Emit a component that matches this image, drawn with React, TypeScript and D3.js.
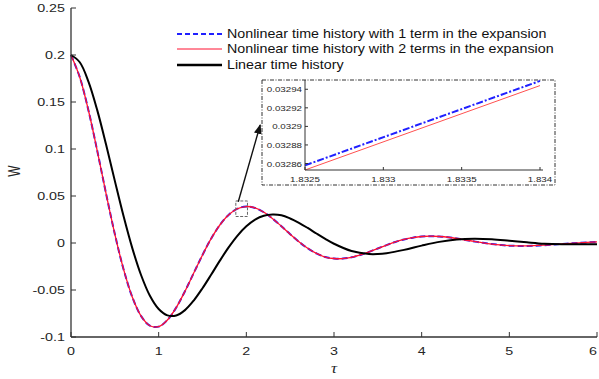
import React from "react";
import * as d3 from "d3";

// ---------- data ----------
const tauNonlinear = [
  0, 0.1, 0.2, 0.3, 0.4, 0.5, 0.6, 0.7, 0.8, 0.9, 1.0, 1.1, 1.2, 1.3, 1.4, 1.5, 1.6, 1.7, 1.8, 1.9,
  2.0, 2.1, 2.2, 2.3, 2.4, 2.5, 2.6, 2.7, 2.8, 2.9, 3.0, 3.1, 3.2, 3.3, 3.4, 3.5, 3.6, 3.7, 3.8, 3.9,
  4.0, 4.1, 4.2, 4.3, 4.4, 4.5, 4.6, 4.7, 4.8, 4.9, 5.0, 5.2, 5.4, 5.6, 5.8, 6.0,
];
const nonlinear1Term = [
  0.2, 0.1764, 0.1407, 0.0978, 0.0526, 0.0095, -0.0281, -0.0577, -0.0778, -0.088, -0.089, -0.0819,
  -0.0687, -0.0513, -0.032, -0.0127, 0.0049, 0.0194, 0.0301, 0.0365, 0.0388, 0.0373, 0.0327, 0.0259,
  0.0178, 0.0094, 0.0013, -0.0056, -0.0111, -0.0149, -0.0165, -0.0166, -0.0152, -0.0127, -0.0094,
  -0.0058, -0.0022, 0.0011, 0.0038, 0.0057, 0.0069, 0.0073, 0.0069, 0.0061, 0.0048, 0.0032, 0.0017,
  0.0002, -0.0011, -0.0021, -0.0028, -0.0031, -0.0023, -0.001, 0.0002, 0.0011,
];
const nonlinear2Terms = [
  0.2, 0.1764, 0.1407, 0.0978, 0.0526, 0.0095, -0.0281, -0.0577, -0.0778, -0.088, -0.089, -0.0819,
  -0.0687, -0.0513, -0.032, -0.0127, 0.0049, 0.0194, 0.0301, 0.0365, 0.0388, 0.0373, 0.0327, 0.0259,
  0.0178, 0.0094, 0.0013, -0.0056, -0.0111, -0.0149, -0.0165, -0.0166, -0.0152, -0.0127, -0.0094,
  -0.0058, -0.0022, 0.0011, 0.0038, 0.0057, 0.0069, 0.0073, 0.0069, 0.0061, 0.0048, 0.0032, 0.0017,
  0.0002, -0.0011, -0.0021, -0.0028, -0.0031, -0.0023, -0.001, 0.0002, 0.0011,
];
const tauLinear = [
  0, 0.1, 0.2, 0.3, 0.4, 0.5, 0.6, 0.7, 0.8, 0.9, 1.0, 1.1, 1.2, 1.3, 1.4, 1.5, 1.6, 1.7, 1.8, 1.9,
  2.0, 2.1, 2.2, 2.3, 2.4, 2.5, 2.6, 2.7, 2.8, 2.9, 3.0, 3.2, 3.4, 3.5, 3.6, 3.8, 4.0, 4.2, 4.4, 4.6,
  4.8, 5.0, 5.2, 5.4, 5.6, 5.8, 6.0,
];
const linearValues = [
  0.2, 0.1923, 0.1715, 0.1411, 0.1048, 0.0661, 0.0284, -0.0057, -0.0343, -0.0561, -0.0702, -0.077,
  -0.0771, -0.0714, -0.0612, -0.0481, -0.0335, -0.0185, -0.0044, 0.0079, 0.0177, 0.0249, 0.029,
  0.0303, 0.0295, 0.0261, 0.0215, 0.016, 0.0101, 0.0044, -0.0008, -0.0085, -0.0117, -0.0117, -0.0108,
  -0.0073, -0.0028, 0.0012, 0.0038, 0.0046, 0.004, 0.0024, 0.0007, -0.0008, -0.0014, -0.0014, -0.0012,
];

const xTicks = [0, 1, 2, 3, 4, 5, 6];
const yTicks = [-0.1, -0.05, 0, 0.05, 0.1, 0.15, 0.2, 0.25];
const yTickLabels = ["-0.1", "-0.05", "0", "0.05", "0.1", "0.15", "0.2", "0.25"];

// inset (zoom) data
const insetTau = [1.8325, 1.834];
const inset1Term = [0.032858, 0.032949];
const inset2Terms = [0.032853, 0.032944];
const insetXTicks = [1.8325, 1.833, 1.8335, 1.834];
const insetXTickLabels = ["1.8325", "1.833", "1.8335", "1.834"];
const insetYTicks = [0.03286, 0.03288, 0.0329, 0.03292, 0.03294];
const insetYTickLabels = ["0.03286", "0.03288", "0.0329", "0.03292", "0.03294"];

// annotation: zoom rectangle and arrow (data units)
const zoomRectTau = [1.88, 2.013];
const zoomRectW = [0.0282, 0.0447];
const arrowFrom = [1.908, 0.0439];
const arrowTo = [2.158, 0.1255];

const legendLabels = [
  "Nonlinear time history with 1 term in the expansion",
  "Nonlinear time history with 2 terms in the expansion",
  "Linear time history",
];

// ---------- layout ----------
const W = 599;
const H = 379;
const plot = { left: 71, right: 597, top: 8, bottom: 337 };
const inset = { boxL: 262, boxR: 555, boxT: 80, boxB: 185, left: 305, right: 540, top: 80, bottom: 170 };
const SX = 1.3;
const textColor = "#262626";
const axisColor = "#333";

export default function App() {
  const x = d3.scaleLinear().domain([0, 6]).range([plot.left, plot.right]);
  const y = d3.scaleLinear().domain([-0.1, 0.25]).range([plot.bottom, plot.top]);

  const line = (ts: number[], vs: number[]) =>
    d3
      .line<number>()
      .x((_, i) => x(ts[i]))
      .y((v) => y(v))
      .curve(d3.curveCatmullRom.alpha(0.5))(vs) || "";

  const ix = d3.scaleLinear().domain([1.8325, 1.834]).range([inset.left, inset.right]);
  const iy = d3.scaleLinear().domain([0.032853, 0.03295]).range([inset.bottom, inset.top]);
  const iline = (vs: number[]) =>
    d3
      .line<number>()
      .x((_, i) => ix(insetTau[i]))
      .y((v) => iy(v))(vs) || "";

  const ax0 = x(arrowFrom[0]);
  const ay0 = y(arrowFrom[1]);
  const ax1 = x(arrowTo[0]);
  const ay1 = y(arrowTo[1]);

  const legendY = [34, 49, 65];

  return (
    <svg
      width={W}
      height={H}
      style={{ position: "absolute", left: 0, top: 0, display: "block", background: "#fff" }}
      fontFamily="'Liberation Sans', Arial, sans-serif"
    >
      <defs>
        <marker id="ah" viewBox="0 0 10 10" refX="9" refY="5" markerWidth="7" markerHeight="7" orient="auto">
          <path d="M0,1 L10,5 L0,9 z" fill="#111" />
        </marker>
      </defs>
      <rect x={0} y={0} width={W} height={H} fill="#fff" />

      {/* curves */}
      <path d={line(tauNonlinear, nonlinear1Term)} fill="none" stroke="#2020ff" strokeWidth={2} strokeDasharray="6,3" />
      <path d={line(tauNonlinear, nonlinear2Terms)} fill="none" stroke="#ff1030" strokeWidth={1.3} />
      <path d={line(tauLinear, linearValues)} fill="none" stroke="#000" strokeWidth={2} />

      {/* axes */}
      <line x1={plot.left} x2={plot.left} y1={plot.top} y2={plot.bottom} stroke={axisColor} strokeWidth={1.3} />
      <line x1={plot.left} x2={plot.right} y1={plot.bottom} y2={plot.bottom} stroke={axisColor} strokeWidth={1.3} />
      {yTicks.map((t, i) => (
        <g key={"yt" + i}>
          <line x1={plot.left} x2={plot.left + 5} y1={y(t)} y2={y(t)} stroke={axisColor} strokeWidth={1} />
          <text
            transform={`translate(${plot.left - 6},${y(t) + 4}) scale(${SX},1)`}
            textAnchor="end"
            fontSize={11}
            fill={textColor}
          >
            {yTickLabels[i]}
          </text>
        </g>
      ))}
      {xTicks.map((t, i) => (
        <g key={"xt" + i}>
          <line x1={x(t)} x2={x(t)} y1={plot.bottom} y2={plot.bottom - 5} stroke={axisColor} strokeWidth={1} />
          <text
            transform={`translate(${Math.min(x(t), W - 6)},355) scale(${SX},1)`}
            textAnchor="middle"
            fontSize={11}
            fill={textColor}
          >
            {String(t)}
          </text>
        </g>
      ))}
      <text
        transform={`translate(20,171) rotate(-90) scale(1,${SX})`}
        textAnchor="middle"
        fontSize={12}
        fill={textColor}
      >
        W
      </text>
      <text
        transform={`translate(${(plot.left + plot.right) / 2},373) scale(1.2,1)`}
        textAnchor="middle"
        fontSize={14}
        fontStyle="italic"
        fontFamily="'Liberation Serif', serif"
        fill={textColor}
      >
        τ
      </text>

      {/* zoom rectangle and arrow */}
      <rect
        x={x(zoomRectTau[0])}
        y={y(zoomRectW[1])}
        width={x(zoomRectTau[1]) - x(zoomRectTau[0])}
        height={y(zoomRectW[0]) - y(zoomRectW[1])}
        fill="none"
        stroke="#666"
        strokeWidth={1}
        strokeDasharray="3,1.5"
      />
      <line x1={ax0} y1={ay0} x2={ax1} y2={ay1} stroke="#111" strokeWidth={1.4} markerEnd="url(#ah)" />

      {/* legend */}
      {legendLabels.map((lab, i) => (
        <g key={"lg" + i}>
          {i === 0 && (
            <line x1={177} x2={222} y1={legendY[i]} y2={legendY[i]} stroke="#2020ff" strokeWidth={2} strokeDasharray="5,3" />
          )}
          {i === 1 && <line x1={177} x2={222} y1={legendY[i]} y2={legendY[i]} stroke="#ff1030" strokeWidth={1} />}
          {i === 2 && <line x1={177} x2={222} y1={legendY[i]} y2={legendY[i]} stroke="#000" strokeWidth={2.5} />}
          <text
            transform={`translate(227,${legendY[i] + 4}) scale(1.19,1)`}
            fontSize={12}
            fill="#111"
          >
            {lab}
          </text>
        </g>
      ))}

      {/* inset */}
      <rect
        x={inset.boxL}
        y={inset.boxT}
        width={inset.boxR - inset.boxL}
        height={inset.boxB - inset.boxT}
        fill="#fff"
        stroke="#333"
        strokeWidth={1}
        strokeDasharray="4,1.5,1,1.5"
      />
      <path d={iline(inset1Term)} fill="none" stroke="#2020ff" strokeWidth={2} strokeDasharray="7,2,2,2" />
      <path d={iline(inset2Terms)} fill="none" stroke="#ff5050" strokeWidth={1} />
      <line x1={inset.left} x2={inset.left} y1={inset.top} y2={inset.bottom} stroke={axisColor} strokeWidth={1} />
      <line x1={inset.left} x2={inset.right + 3} y1={inset.bottom} y2={inset.bottom} stroke={axisColor} strokeWidth={1} />
      {insetYTicks.map((t, i) => (
        <g key={"iyt" + i}>
          <line x1={inset.left} x2={inset.left + 3} y1={iy(t)} y2={iy(t)} stroke={axisColor} strokeWidth={1} />
          <text
            transform={`translate(${inset.left - 3},${iy(t) + 3}) scale(1.22,1)`}
            textAnchor="end"
            fontSize={8}
            fill={textColor}
          >
            {insetYTickLabels[i]}
          </text>
        </g>
      ))}
      {insetXTicks.map((t, i) => (
        <g key={"ixt" + i}>
          <line x1={ix(t)} x2={ix(t)} y1={inset.bottom} y2={inset.bottom - 3} stroke={axisColor} strokeWidth={1} />
          <text
            transform={`translate(${ix(t)},182) scale(1.22,1)`}
            textAnchor="middle"
            fontSize={8}
            fill={textColor}
          >
            {insetXTickLabels[i]}
          </text>
        </g>
      ))}
    </svg>
  );
}
